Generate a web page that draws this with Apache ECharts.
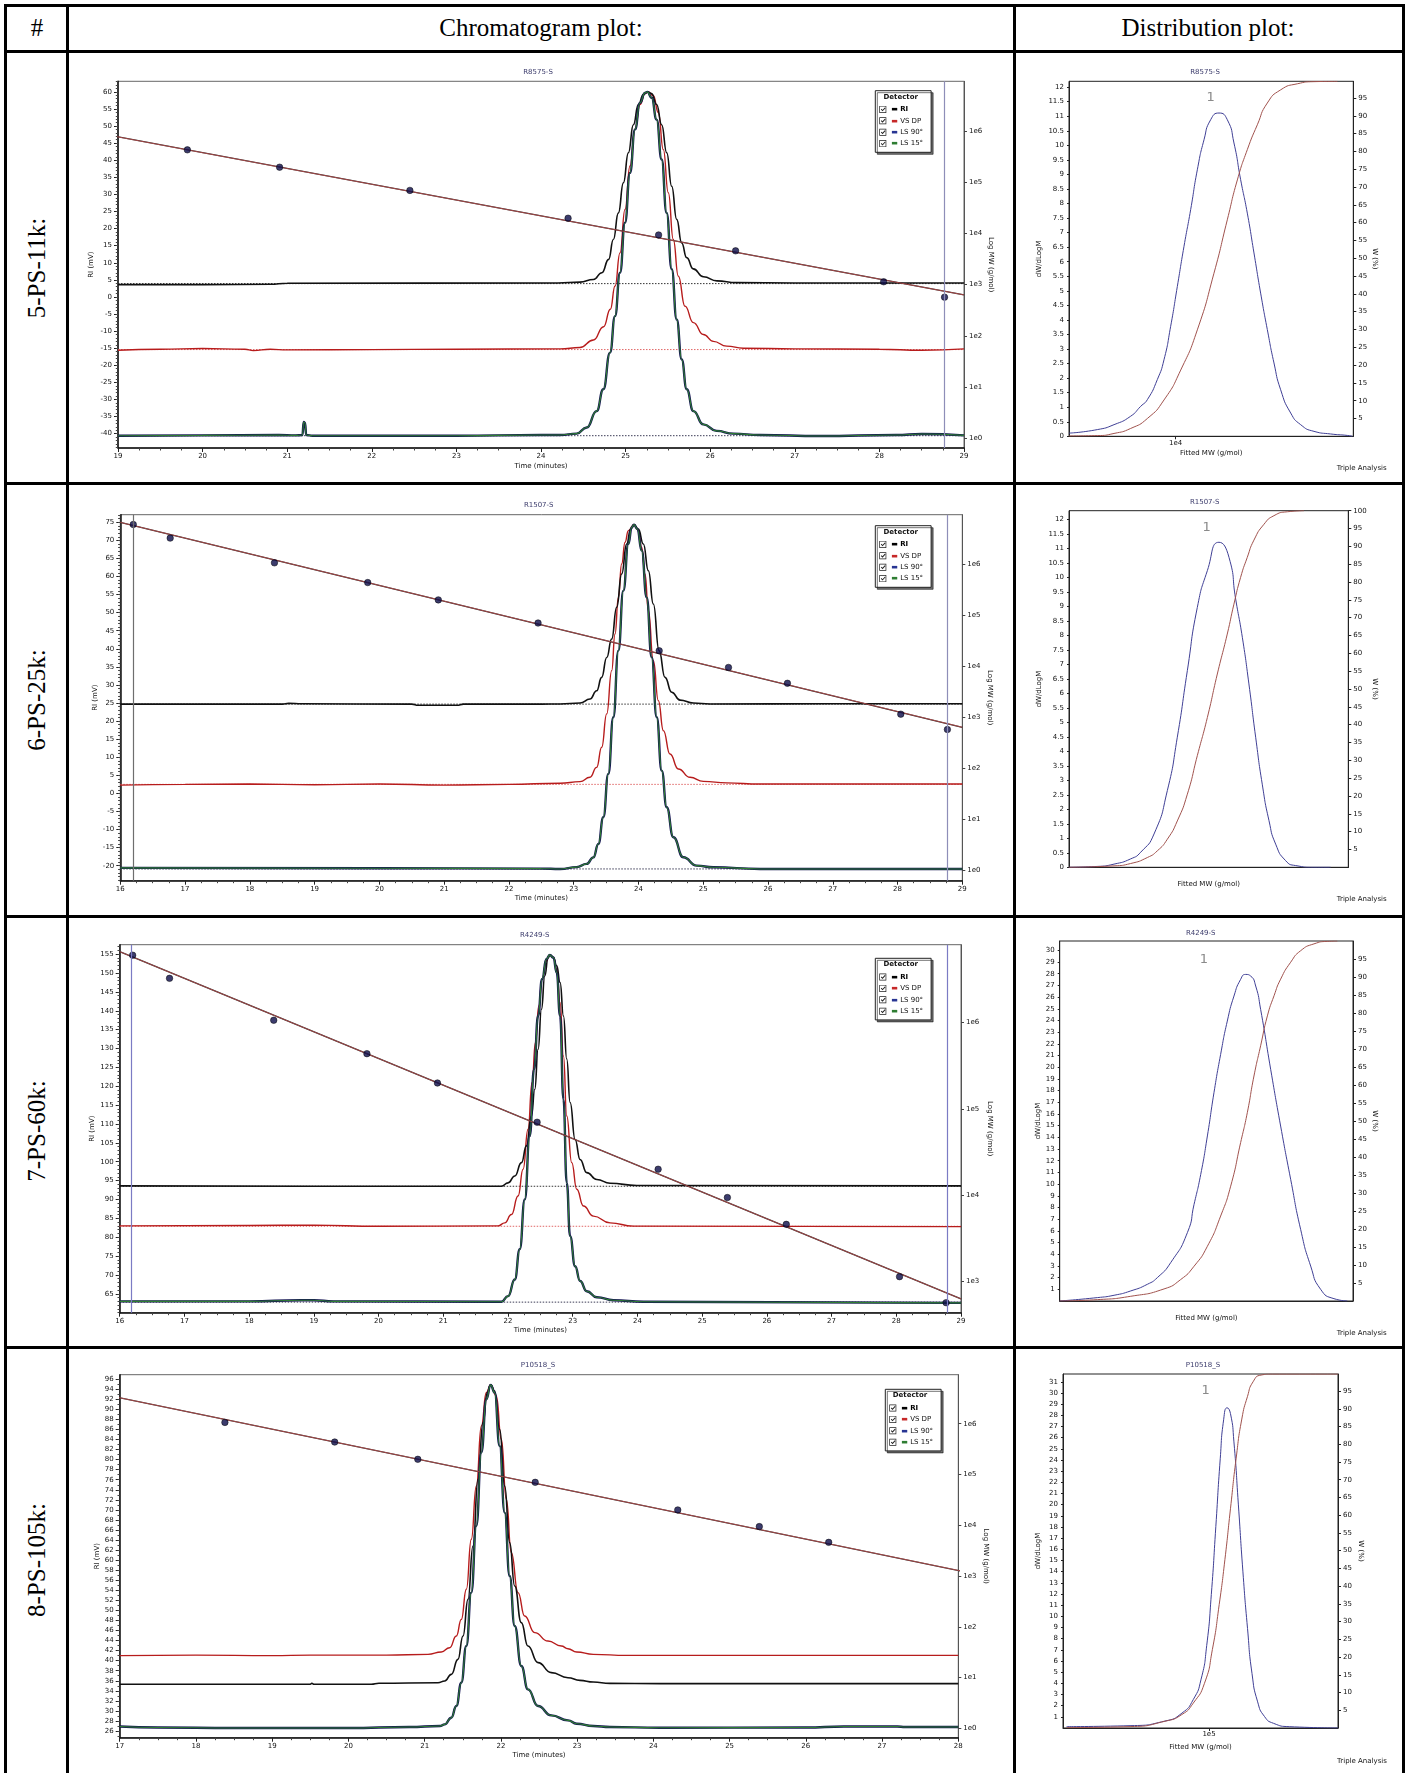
<!DOCTYPE html>
<html>
<head>
<meta charset="utf-8">
<script src="https://cdn.jsdelivr.net/npm/echarts@6.0.0/dist/echarts.min.js"></script>
<style>
html,body{margin:0;padding:0;background:#fff;}
body{position:relative;width:1408px;height:1773px;overflow:hidden;}
.ln{position:absolute;background:#000;}
.hd{position:absolute;font-family:"Liberation Serif","Times New Roman",serif;font-size:25px;color:#000;white-space:nowrap;transform:translate(-50%,-50%);}
.rl{position:absolute;font-family:"Liberation Serif","Times New Roman",serif;font-size:25px;color:#000;white-space:nowrap;transform:translate(-50%,-50%) rotate(-90deg);}
.ch{position:absolute;}
</style>
</head>
<body>
<!-- table frame -->
<div class="ln" style="left:4px;top:4px;width:1401px;height:3px"></div>
<div class="ln" style="left:4px;top:50px;width:1401px;height:3px"></div>
<div class="ln" style="left:4px;top:482px;width:1401px;height:3px"></div>
<div class="ln" style="left:4px;top:915px;width:1401px;height:3px"></div>
<div class="ln" style="left:4px;top:1346px;width:1401px;height:3px"></div>
<div class="ln" style="left:4px;top:4px;width:3px;height:1769px"></div>
<div class="ln" style="left:66px;top:4px;width:3px;height:1769px"></div>
<div class="ln" style="left:1013px;top:4px;width:3px;height:1769px"></div>
<div class="ln" style="left:1402px;top:4px;width:3px;height:1769px"></div>

<div class="hd" style="left:37px;top:28px">#</div>
<div class="hd" style="left:541px;top:28px">Chromatogram plot:</div>
<div class="hd" style="left:1208px;top:28px">Distribution plot:</div>

<div class="rl" style="left:37px;top:268px">5-PS-11k:</div>
<div class="rl" style="left:37px;top:700px">6-PS-25k:</div>
<div class="rl" style="left:37px;top:1131px">7-PS-60k:</div>
<div class="rl" style="left:37px;top:1560px">8-PS-105k:</div>

<div id="c1" class="ch" style="left:69px;top:54px;width:944px;height:428px"></div>
<div id="c2" class="ch" style="left:69px;top:485px;width:944px;height:430px"></div>
<div id="c3" class="ch" style="left:69px;top:918px;width:944px;height:428px"></div>
<div id="c4" class="ch" style="left:69px;top:1349px;width:944px;height:424px"></div>
<div id="d1" class="ch" style="left:1016px;top:54px;width:386px;height:428px"></div>
<div id="d2" class="ch" style="left:1016px;top:485px;width:386px;height:430px"></div>
<div id="d3" class="ch" style="left:1016px;top:918px;width:386px;height:428px"></div>
<div id="d4" class="ch" style="left:1016px;top:1349px;width:386px;height:424px"></div>

<script>
// ---------------- DATA ----------------
// calibration standards (retention time, molar mass)
const stdTime = [16.20, 16.77, 18.38, 19.82, 20.91, 22.45, 24.32, 25.39, 26.30, 28.05, 28.77];
const stdMW   = [6.0e6, 3.24e6, 1.06e6, 4.35e5, 1.99e5, 7.0e4, 2.0e4, 9.4e3, 4.6e3, 1.14e3, 5.7e2];
// calibration fit line (time, molar mass)
const calTime = [16, 29];
const calMW   = [6.6e6, 631];

// tick label lists
const r1YTicks = [-40,-35,-30,-25,-20,-15,-10,-5,0,5,10,15,20,25,30,35,40,45,50,55,60];
const r2YTicks = [-20,-15,-10,-5,0,5,10,15,20,25,30,35,40,45,50,55,60,65,70,75];
const r3YTicks = [65,70,75,80,85,90,95,100,105,110,115,120,125,130,135,140,145,150,155];
const r4YTicks = [26,28,30,32,34,36,38,40,42,44,46,48,50,52,54,56,58,60,62,64,66,68,70,72,74,76,78,80,82,84,86,88,90,92,94,96];
const logTicksAll = [0,1,2,3,4,5,6];
const r3LogTicks = [3,4,5,6];
const d12YTicks = [0,0.5,1,1.5,2,2.5,3,3.5,4,4.5,5,5.5,6,6.5,7,7.5,8,8.5,9,9.5,10,10.5,11,11.5,12];
const d3YTicks = [1,2,3,4,5,6,7,8,9,10,11,12,13,14,15,16,17,18,19,20,21,22,23,24,25,26,27,28,29,30];
const d4YTicks = [1,2,3,4,5,6,7,8,9,10,11,12,13,14,15,16,17,18,19,20,21,22,23,24,25,26,27,28,29,30,31];
const wTicks95 = [5,10,15,20,25,30,35,40,45,50,55,60,65,70,75,80,85,90,95];
const wTicks100 = [5,10,15,20,25,30,35,40,45,50,55,60,65,70,75,80,85,90,95,100];

// Row 1 : R8575-S  [time, mV]
const r1RI = [[19,3.6],[20.0,3.6],[20.8,3.7],[21.0,4.0],[24.2,4.1],[24.46,4.35],[24.62,5.1],[24.72,7.1],[24.80,11.0],[24.855,16.8],[24.915,24.6],[24.974,33.4],[25.033,42.2],[25.092,50.4],[25.151,56.3],[25.21,59.2],[25.257,60.0],[25.308,59.5],[25.367,56.3],[25.426,50.4],[25.486,42.2],[25.545,32.4],[25.604,22.7],[25.663,15.8],[25.722,11.5],[25.80,8.2],[25.92,5.9],[26.08,4.7],[26.31,4.2],[27,4.1],[29,4.1]];
const r1VS = [[19,-15.6],[19.5,-15.3],[20,-15.1],[20.5,-15.3],[20.6,-15.7],[20.8,-15.3],[21,-15.5],[22,-15.4],[23,-15.3],[24.225,-15.2],[24.46,-14.8],[24.62,-12.6],[24.74,-8.7],[24.82,-3.6],[24.875,3.2],[24.934,12.9],[24.993,25.6],[25.052,38.3],[25.111,49.0],[25.17,56.3],[25.229,59.5],[25.269,60.0],[25.328,58.9],[25.387,53.9],[25.446,43.1],[25.505,30.5],[25.564,16.8],[25.623,6.1],[25.702,-2.7],[25.801,-7.5],[25.919,-11.0],[26.037,-13.0],[26.195,-14.4],[26.392,-15.0],[27,-15.2],[28,-15.3],[28.5,-15.6],[29,-15.2]];
const r1LS = [[19,-40.6],[20,-40.5],[20.9,-40.4],[21.1,-40.5],[21.18,-40.4],[21.195,-36.6],[21.21,-36.8],[21.225,-40.4],[21.3,-40.6],[23,-40.6],[24.0,-40.4],[24.225,-40.4],[24.422,-40.0],[24.54,-38.2],[24.658,-33.4],[24.737,-27.0],[24.816,-16.3],[24.875,-5.6],[24.934,7.1],[24.993,21.7],[25.052,36.3],[25.111,49.0],[25.17,56.8],[25.229,59.7],[25.257,60.0],[25.308,58.3],[25.367,51.9],[25.426,40.2],[25.485,24.6],[25.545,8.1],[25.604,-6.6],[25.663,-18.3],[25.722,-27.0],[25.801,-33.4],[25.919,-37.3],[26.076,-39.2],[26.273,-40.0],[26.589,-40.4],[27.3,-40.7],[28.2,-40.4],[28.5,-40.1],[29,-40.5]];
const r1Base = [3.9, -15.4, -40.6];
const r1MarkT = [28.77];

// Row 2 : R1507-S
const r2RI = [[16,24.7],[18.5,24.7],[18.6,24.9],[18.8,24.8],[20.5,24.7],[20.6,24.4],[21.2,24.4],[21.3,24.7],[22.5,24.7],[22.789,24.74],[23.098,25.0],[23.252,26.1],[23.355,28.4],[23.432,32.1],[23.51,37.6],[23.587,42.7],[23.664,51.5],[23.741,60.7],[23.818,69.0],[23.88,73.1],[23.932,74.35],[23.998,73.1],[24.076,69.0],[24.153,61.6],[24.23,52.4],[24.318,39.5],[24.41,32.1],[24.513,28.0],[24.642,25.8],[24.848,25.0],[25.105,24.74],[27,24.8],[29,24.8]];
const r2VS = [[16,2.3],[17,2.5],[18,2.6],[19,2.4],[20,2.6],[21,2.3],[22,2.5],[22.789,2.8],[23.098,3.25],[23.252,4.45],[23.355,7.2],[23.432,12.75],[23.51,22.0],[23.587,33.96],[23.638,44.1],[23.69,54.24],[23.741,63.47],[23.793,69.46],[23.844,72.7],[23.932,74.35],[23.998,72.7],[24.05,68.1],[24.101,60.7],[24.153,50.56],[24.23,36.7],[24.307,25.66],[24.385,17.36],[24.487,10.9],[24.616,6.76],[24.796,4.45],[25.002,3.34],[25.362,2.9],[25.877,2.6],[29,2.6]];
const r2LS = [[16,-20.6],[20,-20.7],[22.5,-20.8],[22.789,-20.9],[23.046,-20.4],[23.2,-19.5],[23.304,-17.7],[23.381,-14.0],[23.458,-6.6],[23.535,5.4],[23.612,21.05],[23.69,39.49],[23.767,56.09],[23.844,69.0],[23.896,73.6],[23.932,74.35],[23.983,73.14],[24.05,67.15],[24.127,54.24],[24.204,37.65],[24.282,21.05],[24.359,6.3],[24.436,-3.85],[24.539,-12.15],[24.693,-17.68],[24.899,-19.98],[25.156,-20.44],[25.877,-20.9],[29,-20.9]];
const r2Base = [24.7, 2.5, -20.9];
const r2MarkT = [16.2, 28.77];

// Row 3 : R4249-S
const r3RI = [[16,93.6],[19,93.5],[21.5,93.5],[21.899,93.5],[22.002,94.4],[22.105,96.2],[22.208,99.75],[22.285,104.2],[22.362,112.1],[22.414,119.2],[22.465,129.8],[22.517,140.4],[22.568,149.2],[22.62,154.1],[22.646,154.8],[22.702,154.1],[22.753,151.9],[22.805,147.5],[22.857,138.6],[22.908,127.2],[22.96,115.7],[23.037,105.9],[23.114,100.6],[23.217,97.1],[23.372,95.3],[23.578,94.3],[23.99,93.7],[29,93.6]];
const r3VS = [[16,83.0],[18,83.1],[19,83.2],[20,82.9],[21.847,83.0],[21.95,83.8],[22.053,86.0],[22.156,90.9],[22.233,98.0],[22.31,108.6],[22.372,121.0],[22.424,131.6],[22.476,141.3],[22.527,148.4],[22.594,153.2],[22.646,154.8],[22.702,154.1],[22.753,151.0],[22.805,142.2],[22.857,128.0],[22.908,112.1],[22.985,99.75],[23.063,92.7],[23.166,88.25],[23.32,85.6],[23.578,83.8],[23.938,82.95],[29,82.8]];
const r3LS = [[16,63.0],[18,63.0],[18.8,63.3],[19.0,63.3],[19.3,63.0],[21.899,62.9],[22.002,64.4],[22.105,68.8],[22.182,76.8],[22.259,90.0],[22.336,106.8],[22.403,124.5],[22.465,138.6],[22.527,148.4],[22.594,153.7],[22.646,154.8],[22.702,154.1],[22.753,150.1],[22.805,138.6],[22.857,116.5],[22.908,94.4],[22.96,80.3],[23.037,72.3],[23.114,68.4],[23.217,65.7],[23.372,64.1],[23.629,63.3],[24.093,62.9],[29,62.6]];
const r3Base = [93.5, 82.9, 62.8];
const r3MarkT = [16.18, 28.79];

// Row 4 : P10518_S
const r4RI = [[17,35.3],[19.5,35.3],[19.52,35.5],[19.55,35.3],[20.3,35.3],[20.4,35.5],[21.175,35.61],[21.263,35.95],[21.35,37.28],[21.437,40.26],[21.503,44.9],[21.569,52.2],[21.634,62.82],[21.7,76.09],[21.765,87.37],[21.822,93.34],[21.866,94.87],[21.918,93.67],[21.984,86.04],[22.05,74.76],[22.115,63.48],[22.181,54.86],[22.268,47.56],[22.355,42.91],[22.487,39.6],[22.662,37.61],[22.88,36.61],[23.037,36.08],[23.212,35.75],[23.431,35.48],[24.087,35.42],[28,35.42]];
const r4VS = [[17,41.0],[18,41.1],[19,41.0],[19.5,41.1],[20.5,41.1],[21.044,41.26],[21.219,41.72],[21.328,42.58],[21.416,44.9],[21.481,48.22],[21.547,54.2],[21.612,64.15],[21.678,74.76],[21.744,86.7],[21.809,93.34],[21.866,94.87],[21.94,92.68],[22.006,84.05],[22.071,72.11],[22.137,61.49],[22.225,53.53],[22.312,48.89],[22.443,45.57],[22.618,43.91],[22.793,42.91],[22.88,42.38],[22.994,41.72],[23.212,41.26],[23.649,41.06],[28,41.06]];
const r4LS = [[17,26.9],[17.5,26.7],[18.5,26.6],[20.0,26.6],[20.8,26.8],[21.2,27.0],[21.263,27.32],[21.35,28.65],[21.416,30.97],[21.481,35.61],[21.547,42.91],[21.612,53.53],[21.678,66.8],[21.744,81.4],[21.809,92.01],[21.866,94.87],[21.918,93.34],[21.984,82.72],[22.05,69.45],[22.115,56.85],[22.181,46.9],[22.268,38.93],[22.355,34.29],[22.487,30.97],[22.662,29.11],[22.88,28.12],[22.994,27.45],[23.212,26.99],[23.431,26.79],[24.087,26.66],[26,26.7],[26.5,26.9],[27.2,26.9],[27.3,26.8],[28,26.8]];
const r4MarkT = [];

// Distribution plots  [log10 MW, dW/dLogM]  and  [log10 MW, W %]
const d1Blue = [[3.8768,0.11],[3.9095,0.23],[3.9288,0.4],[3.948,0.69],[3.9596,1.03],[3.9673,1.26],[3.9788,1.95],[3.9865,2.63],[3.9942,3.78],[4.0019,5.15],[4.0096,6.53],[4.0173,7.79],[4.025,9.16],[4.0327,10.19],[4.0404,10.88],[4.05,11.11],[4.0596,10.88],[4.0673,10.08],[4.075,8.82],[4.0827,7.67],[4.0904,6.3],[4.0981,4.92],[4.1058,3.67],[4.1135,2.52],[4.1212,1.6],[4.1328,0.8],[4.1443,0.4],[4.1597,0.17],[4.179,0.08],[4.1982,0.03],[4.204,0]];
const d1Red = [[3.8768,0.1],[3.9095,0.2],[3.9288,0.8],[3.948,2.2],[3.9673,5.0],[3.9865,10.2],[4.0058,18.6],[4.025,29.9],[4.0442,45.8],[4.0596,60.8],[4.0712,72.0],[4.0827,80.5],[4.0943,87.5],[4.1058,93.6],[4.1212,97.3],[4.1405,99.0],[4.1597,99.6],[4.1867,99.7]];
const d2Blue = [[4.2268,0],[4.2595,0.03],[4.2788,0.11],[4.298,0.29],[4.3096,0.52],[4.325,1.15],[4.3404,2.65],[4.3519,4.49],[4.3635,6.79],[4.375,8.97],[4.3866,10.24],[4.40,11.22],[4.4116,10.7],[4.4193,9.26],[4.427,7.94],[4.4346,6.33],[4.4424,4.49],[4.45,2.87],[4.4578,1.61],[4.4655,0.8],[4.477,0.23],[4.4886,0.06],[4.5097,0],[4.529,0]];
const d2Red = [[4.2268,0],[4.2788,0.4],[4.298,1.06],[4.3173,2.74],[4.3288,4.61],[4.3404,7.88],[4.3519,13.0],[4.3635,20.5],[4.375,31.3],[4.3866,42.0],[4.3981,54.2],[4.4096,65.4],[4.4173,73.8],[4.425,81.3],[4.4327,86.9],[4.4404,91.75],[4.452,96.2],[4.4635,98.6],[4.479,99.7],[4.4982,100]];
const d3Blue = [[4.5651,0],[4.6086,0.29],[4.6279,0.49],[4.6471,0.86],[4.6664,1.43],[4.6779,2.0],[4.6933,3.28],[4.7126,5.85],[4.7203,8.27],[4.728,10.83],[4.7357,14.12],[4.7433,17.82],[4.751,21.1],[4.7587,23.95],[4.7664,26.09],[4.7741,27.52],[4.7799,27.94],[4.7857,27.8],[4.7915,26.95],[4.7972,24.95],[4.8088,19.82],[4.8203,14.97],[4.8319,10.41],[4.8434,6.13],[4.855,2.99],[4.8665,1.0],[4.8819,0.2],[4.8973,0]];
const d3Red = [[4.5651,0],[4.6086,0.38],[4.6471,1.31],[4.6856,3.35],[4.7048,5.95],[4.7203,9.66],[4.7357,15.2],[4.751,23.6],[4.7626,31.9],[4.7741,44.0],[4.7818,52.3],[4.7895,62.5],[4.7972,70.9],[4.805,79.2],[4.8127,84.8],[4.8203,89.4],[4.8319,94.1],[4.8434,97.3],[4.8588,99.2],[4.8742,99.9],[4.8858,100]];
const d4Blue = [[4.8355,0.12],[4.9099,0.21],[4.9491,0.62],[4.9687,1.33],[4.9818,2.54],[4.9909,4.37],[4.9974,7.4],[5.0027,11.96],[5.0079,18.03],[5.013,24.11],[5.017,27.65],[5.0209,28.67],[5.0248,28.16],[5.0288,25.62],[5.0339,20.05],[5.0392,13.98],[5.0445,8.92],[5.0497,4.87],[5.0562,2.34],[5.0641,1.03],[5.0745,0.42],[5.0927,0.12],[5.149,0]];
const d4Red = [[4.8355,0.1],[4.9099,0.4],[4.9491,1.9],[4.9687,3.8],[4.9818,7.0],[4.9948,12.6],[5.0039,22.1],[5.0118,34.8],[5.0184,47.5],[5.0248,61.8],[5.0314,76.1],[5.0379,87.1],[5.0445,93.5],[5.0509,97.6],[5.0601,99.5],[5.0732,99.8],[5.149,99.8]];

// ---------------- LAYOUT / STYLE ----------------
const FF = 'DejaVu Sans';
const LAB = {fontFamily: FF, fontSize: 7, color: '#111'};
const CHECK = 'path://M0,0L10,0L10,10L0,10Z M1,1L1,9L9,9L9,1Z M2.2,5.2L3.4,4.2L4.6,5.8L7.8,2.2L8.8,3.2L4.6,7.8Z';
const LEG_KEY = {'RI': 'a', 'VS DP': 'b', 'LS 90°': 'c', 'LS 15°': 'd'};
const SM = 0.5;

function txt(x, y, text, o) {
  o = o || {};
  const al = o.align || 'center';
  return {type: 'text', x: x, y: y, z: 100, silent: true,
    style: {text: text, fill: o.fill || '#111',
      font: (o.weight || 'normal') + ' ' + (o.size || 7) + 'px "DejaVu Sans"',
      align: al, verticalAlign: 'middle', textAlign: al, textVerticalAlign: 'middle'}};
}

const CHROM = [
  {id: 'c1', title: 'R8575-S', grid: [49, 27.3, 846, 366.7], titlePos: [469, 18], x: [19, 29], y: [-44.2, 63.1], yTicks: r1YTicks, log: [-0.196, 6.98], logTicks: logTicksAll,
   ri: r1RI, vs: r1VS, ls: r1LS, base: r1Base, markT: r1MarkT, markC: ['#8e8eb8'], leg: [806.3, 36.7], det: [831.7, 43], gaps: [14.5, 23, 23]},
  {id: 'c2', title: 'R1507-S', grid: [51.3, 29.7, 842, 366], titlePos: [469.7, 20], x: [16, 29], y: [-24.15, 77.1], yTicks: r2YTicks, log: [-0.21, 6.97], logTicks: logTicksAll,
   ri: r2RI, vs: r2VS, ls: r2LS, base: r2Base, markT: r2MarkT, markC: ['#6e6e6e', '#8e8eb8'], leg: [806.3, 40.7], det: [831.7, 46.7], gaps: [14, 22, 24]},
  {id: 'c3', title: 'R4249-S', grid: [50.7, 26.7, 841.3, 368], titlePos: [465.7, 17], x: [16, 29], y: [60, 157.5], yTicks: r3YTicks, log: [2.64, 6.90], logTicks: r3LogTicks,
   ri: r3RI, vs: r3VS, ls: r3LS, base: r3Base, markT: r3MarkT, markC: ['#7b7bc4', '#7b7bc4'], leg: [806.3, 40.3], det: [831.7, 46.3], gaps: [14, 24, 25]},
  {id: 'c4', title: 'P10518_S', grid: [50.7, 25.7, 838.6, 363], titlePos: [469, 16], x: [17, 28], y: [24.67, 96.9], yTicks: r4YTicks, log: [-0.185, 6.965], logTicks: logTicksAll,
   ri: r4RI, vs: r4VS, ls: r4LS, base: null, markT: r4MarkT, markC: [], leg: [816.3, 40.3], det: [841, 46.3], gaps: [14, 19, 24]}
];

const DIST = [
  {id: 'd1', title: 'R8575-S', grid: [53, 27.3, 284.3, 355], titlePos: [189, 18], x: [3.8768, 4.2051], xTicks: [4], yL: 12.2, yLTicks: d12YTicks, yR: 99.7, yRTicks: wTicks95,
   blue: d1Blue, red: d1Red, one: [194.7, 44], ta: [345.7, 414], gaps: [13.7, 26, 18]},
  {id: 'd2', title: 'R1507-S', grid: [53, 25.7, 279.3, 356.6], titlePos: [188.7, 17.3], x: [4.2268, 4.5494], xTicks: [], yL: 12.31, yLTicks: d12YTicks, yR: 100, yRTicks: wTicks100,
   blue: d2Blue, red: d2Red, one: [190.7, 43], ta: [345.7, 414], gaps: [13.7, 26, 23]},
  {id: 'd3', title: 'R4249-S', grid: [43.7, 23, 293.3, 360], titlePos: [184.7, 14.7], x: [4.5651, 4.9039], xTicks: [], yL: 30.8, yLTicks: d3YTicks, yR: 100, yRTicks: wTicks95,
   blue: d3Blue, red: d3Red, one: [188, 41.3], ta: [345.7, 414.7], gaps: [13.3, 18.4, 18]},
  {id: 'd4', title: 'P10518_S', grid: [47, 25, 275, 354], titlePos: [187, 16], x: [4.8314, 5.149], xTicks: [5], yL: 31.7, yLTicks: d4YTicks, yR: 99.8, yRTicks: wTicks95,
   blue: d4Blue, red: d4Red, one: [189.6, 42], ta: [346, 412], gaps: [16, 21, 19.7]}
];

function chromOption(c) {
  const g = c.grid;
  const minor = [];
  for (let v = Math.ceil(c.y[0]); v <= c.y[1]; v++) minor.push(v);
  const series = [];
  if (c.base) {
    const bc = ['#333333', '#e06666', '#3a3a55'];
    c.base.forEach(function (b, i) {
      series.push({type: 'line', data: [[c.x[0], b], [c.x[1], b]], showSymbol: false, silent: true,
        lineStyle: {color: bc[i], width: 1, type: [1.5, 1.5]}, z: 1});
    });
  }
  series.push({name: 'VS DP', type: 'line', data: c.vs, showSymbol: false, smooth: SM, smoothMonotone: 'x', silent: true,
    lineStyle: {color: '#b71c1c', width: 1.4}, itemStyle: {color: '#b71c1c'}, z: 2,
    markLine: c.markT.length ? {silent: true, symbol: ['none', 'none'], label: {show: false}, animation: false,
      data: c.markT.map(function (t, i) { return {xAxis: t, lineStyle: {color: c.markC[i], width: 1.2, type: 'solid'}}; })} : undefined});
  series.push({name: 'RI', type: 'line', data: c.ri, showSymbol: false, smooth: SM, smoothMonotone: 'x', silent: true,
    lineStyle: {color: '#111111', width: 1.6}, itemStyle: {color: '#111111'}, z: 2});
  series.push({name: 'LS 90°', type: 'line', data: c.ls, showSymbol: false, smooth: SM, smoothMonotone: 'x', silent: true,
    lineStyle: {color: '#141452', width: 2.4}, itemStyle: {color: '#141452'}, z: 2});
  series.push({name: 'LS 15°', type: 'line', data: c.ls, showSymbol: false, smooth: SM, smoothMonotone: 'x', silent: true,
    lineStyle: {color: '#2e7d32', width: 1.1}, itemStyle: {color: '#2e7d32'}, z: 2});
  const cal = calTime.map(function (t, i) { return [t, Math.log10(calMW[i])]; });
  series.push({type: 'line', yAxisIndex: 1, data: cal, showSymbol: false, silent: true, lineStyle: {color: '#1a1a1a', width: 1.3}, z: 3});
  series.push({type: 'line', yAxisIndex: 1, data: cal, showSymbol: false, silent: true, lineStyle: {color: '#e05a5a', width: 0.7}, z: 3});
  series.push({type: 'scatter', yAxisIndex: 1, data: stdTime.map(function (t, i) { return [t, Math.log10(stdMW[i])]; }),
    symbol: 'circle', symbolSize: 6.5, clip: true, silent: true,
    itemStyle: {color: '#0b0b48', borderColor: '#000', borderWidth: 0.6}, z: 4});

  return {
    animation: false,
    grid: {left: g[0], top: g[1], width: g[2], height: g[3], show: true, borderColor: '#666', borderWidth: 1, outerBoundsMode: 'none'},
    xAxis: {type: 'value', min: c.x[0], max: c.x[1], interval: 1,
      axisLine: {onZero: false, lineStyle: {color: '#111', width: 1.5}},
      axisTick: {length: 4, lineStyle: {color: '#222'}},
      minorTick: {show: true, splitNumber: 4, length: 2.5, lineStyle: {color: '#444'}},
      axisLabel: Object.assign({margin: 5}, LAB),
      splitLine: {show: false}, minorSplitLine: {show: false},
      name: 'Time (minutes)', nameLocation: 'middle', nameGap: c.gaps[0], nameMoveOverlap: false, nameTextStyle: LAB},
    yAxis: [
      {type: 'value', position: 'left', min: c.y[0], max: c.y[1],
        axisLine: {show: true, onZero: false, lineStyle: {color: '#111', width: 1.5}},
        axisTick: {show: true, length: 4, customValues: c.yTicks, lineStyle: {color: '#222'}},
        axisLabel: Object.assign({customValues: c.yTicks, margin: 6}, LAB),
        splitLine: {show: false},
        name: 'RI (mV)', nameLocation: 'middle', nameGap: c.gaps[1], nameMoveOverlap: false, nameTextStyle: LAB},
      {type: 'value', position: 'right', min: c.log[0], max: c.log[1],
        axisLine: {show: true, onZero: false, lineStyle: {color: '#555', width: 1}},
        axisTick: {show: true, length: 3, customValues: c.logTicks, lineStyle: {color: '#444'}},
        axisLabel: Object.assign({customValues: c.logTicks, margin: 5, formatter: function (v) { return '1e' + Math.round(v); }}, LAB),
        splitLine: {show: false},
        name: 'Log MW (g/mol)', nameLocation: 'middle', nameRotate: -90, nameGap: c.gaps[2], nameMoveOverlap: false, nameTextStyle: LAB},
      {type: 'value', position: 'left', min: c.y[0], max: c.y[1],
        axisLine: {show: false, onZero: false}, axisLabel: {show: false}, splitLine: {show: false},
        axisTick: {show: true, length: 2.2, customValues: minor, lineStyle: {color: '#444'}}}
    ],
    legend: {data: ['RI', 'VS DP', 'LS 90°', 'LS 15°'], orient: 'vertical', left: c.leg[0], top: c.leg[1],
      padding: [15, 8, 5, 4], itemWidth: 7, itemHeight: 7, itemGap: 4, icon: CHECK, selectedMode: false,
      itemStyle: {color: '#222', borderWidth: 0},
      backgroundColor: '#fff', borderColor: '#222', borderWidth: 1,
      shadowColor: 'rgba(0,0,0,0.55)', shadowOffsetX: 2, shadowOffsetY: 2, shadowBlur: 0,
      textStyle: {fontFamily: FF, fontSize: 7, color: '#111', lineHeight: 7.4,
        rich: {
          a: {color: '#000', fontSize: 7, lineHeight: 7.4},
          b: {color: '#c62828', fontSize: 7, lineHeight: 7.4},
          c: {color: '#283593', fontSize: 7, lineHeight: 7.4},
          d: {color: '#2e7d32', fontSize: 7, lineHeight: 7.4},
          bt: {fontWeight: 'bold', fontSize: 7, color: '#000', lineHeight: 7.4},
          t: {fontSize: 7, color: '#111', lineHeight: 7.4}
        }},
      formatter: function (name) {
        const k = LEG_KEY[name];
        return '{' + k + '|\u25AC} ' + (name === 'RI' ? '{bt|RI}' : '{t|' + name + '}');
      }},
    graphic: {elements: [
      txt(c.titlePos[0], c.titlePos[1], c.title, {fill: '#3c3c6c'}),
      txt(c.det[0], c.det[1], 'Detector', {weight: 'bold', fill: '#111'})
    ]},
    series: series
  };
}

function distOption(d) {
  const g = d.grid;
  const hasX = d.xTicks.length > 0;
  return {
    animation: false,
    grid: {left: g[0], top: g[1], width: g[2], height: g[3], show: true, borderColor: '#222', borderWidth: 1, outerBoundsMode: 'none'},
    xAxis: {type: 'value', min: d.x[0], max: d.x[1],
      axisLine: {onZero: false, lineStyle: {color: '#222', width: 1}},
      axisTick: hasX ? {show: true, length: 3, customValues: d.xTicks} : {show: false},
      axisLabel: hasX ? Object.assign({customValues: d.xTicks, margin: 3, formatter: function (v) { return '1e' + Math.round(v); }}, LAB) : {show: false},
      splitLine: {show: false},
      name: 'Fitted MW (g/mol)', nameLocation: 'middle', nameGap: d.gaps[0], nameMoveOverlap: false, nameTextStyle: LAB},
    yAxis: [
      {type: 'value', position: 'left', min: 0, max: d.yL,
        axisLine: {show: true, onZero: false, lineStyle: {color: '#222', width: 1}},
        axisTick: {show: true, length: 2, customValues: d.yLTicks},
        axisLabel: Object.assign({customValues: d.yLTicks, margin: 5}, LAB),
        splitLine: {show: false},
        name: 'dW/dLogM', nameLocation: 'middle', nameGap: d.gaps[1], nameMoveOverlap: false, nameTextStyle: LAB},
      {type: 'value', position: 'right', min: 0, max: d.yR,
        axisLine: {show: true, onZero: false, lineStyle: {color: '#222', width: 1}},
        axisTick: {show: true, length: 3, customValues: d.yRTicks},
        axisLabel: Object.assign({customValues: d.yRTicks, margin: 5}, LAB),
        splitLine: {show: false},
        name: 'W (%)', nameLocation: 'middle', nameRotate: -90, nameGap: d.gaps[2], nameMoveOverlap: false, nameTextStyle: LAB}
    ],
    graphic: {elements: [
      txt(d.titlePos[0], d.titlePos[1], d.title, {fill: '#3c3c6c'}),
      txt(d.one[0], d.one[1], '1', {size: 13, fill: '#8a8a8a'}),
      txt(d.ta[0], d.ta[1], 'Triple Analysis', {fill: '#111'})
    ]},
    series: [
      {type: 'line', data: d.blue, showSymbol: false, smooth: 0.6, silent: true, lineStyle: {color: '#3f3f95', width: 1}},
      {type: 'line', yAxisIndex: 1, data: d.red, showSymbol: false, smooth: 0.6, silent: true, lineStyle: {color: '#a0524d', width: 1}}
    ]
  };
}

CHROM.forEach(function (c) {
  const ch = echarts.init(document.getElementById(c.id), null, {renderer: 'canvas'});
  ch.setOption(chromOption(c));
});
DIST.forEach(function (d) {
  const ch = echarts.init(document.getElementById(d.id), null, {renderer: 'canvas'});
  ch.setOption(distOption(d));
});
</script>
</body>
</html>
